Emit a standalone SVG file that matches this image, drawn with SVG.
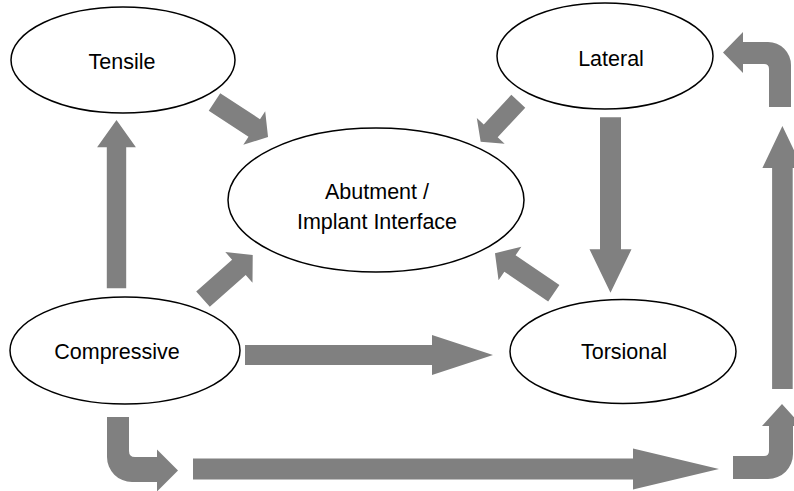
<svg xmlns="http://www.w3.org/2000/svg" width="794" height="491" viewBox="0 0 794 491">
<style>
.node ellipse{fill:#ffffff;stroke:#000000;stroke-width:1.5}
.node text{font-family:"Liberation Sans",Arial,sans-serif;font-size:21.5px;fill:#000000;text-anchor:middle}
.arr{fill:#808080;stroke:none}
</style>
<rect width="794" height="491" fill="#ffffff"/>
<g id="connectors">
<path class="arr" transform="translate(214.5,102) rotate(33.2)" d="M0,-10.5 H47.5 V-20 L64,0 L47.5,20 V10.5 H0 Z"/>
<path class="arr" transform="translate(518.3,101.2) rotate(132.9)" d="M0,-9.5 H40.5 V-19 L55.3,0 L40.5,19 V9.5 H0 Z"/>
<path class="arr" transform="translate(610.5,117.3) rotate(90)" d="M0,-10.5 H132 V-21 L175.4,0 L132,21 V10.5 H0 Z"/>
<path class="arr" transform="translate(203,299.2) rotate(-41.6)" d="M0,-10.25 H48 V-20.5 L66.5,0 L48,20.5 V10.25 H0 Z"/>
<path class="arr" transform="translate(553.8,293.3) rotate(214.2)" d="M0,-10 H53 V-20.3 L71.1,0 L53,20.3 V10 H0 Z"/>
<path class="arr" transform="translate(245,355)" d="M0,-10 H187 V-20 L248,0 L187,20 V10 H0 Z"/>
<path class="arr" transform="translate(116.5,288.3) rotate(-90)" d="M0,-9.7 H141 V-19.4 L168.3,0 L141,19.4 V9.7 H0 Z"/>
<path class="arr" transform="translate(193,469)" d="M0,-10.5 H440 V-20.5 L526,0 L440,20.5 V10.5 H0 Z"/>
<path class="arr" transform="translate(782.4,389) rotate(-90)" d="M0,-10.3 H221 V-20 L263,0 L221,20 V10.3 H0 Z"/>
<path class="arr" d="M107,417 H129 V451 Q129,457 135,457 H157 V449.5 L178,470.5 L157,491.5 V482 H132 A25,25 0 0 1 107,457 Z"/>
<path class="arr" d="M733,456 H764 Q769,456 769,451 V426 H762 L782,404 L802,426 H793 V454 A25,25 0 0 1 768,479 H733 Z"/>
<path class="arr" d="M769,107 V69 Q769,64 764,64 H743 V73 L723,52.5 L743,32 V42 H768 A23,23 0 0 1 791,65 V107 Z"/>
</g>
<g id="tensile" class="node">
<ellipse cx="123" cy="60" rx="112" ry="53"/>
<text x="122" y="69">Tensile</text>
</g>
<g id="lateral" class="node">
<ellipse cx="605" cy="56" rx="108" ry="53"/>
<text x="611" y="66">Lateral</text>
</g>
<g id="abutment" class="node">
<ellipse cx="376" cy="200" rx="148" ry="72"/>
<text x="377" y="199">Abutment /</text>
<text x="377" y="229">Implant Interface</text>
</g>
<g id="compressive" class="node">
<ellipse cx="125" cy="350.5" rx="115" ry="53.5"/>
<text x="117" y="359">Compressive</text>
</g>
<g id="torsional" class="node">
<ellipse cx="623" cy="351.5" rx="113" ry="52"/>
<text x="624" y="359">Torsional</text>
</g>
</svg>
